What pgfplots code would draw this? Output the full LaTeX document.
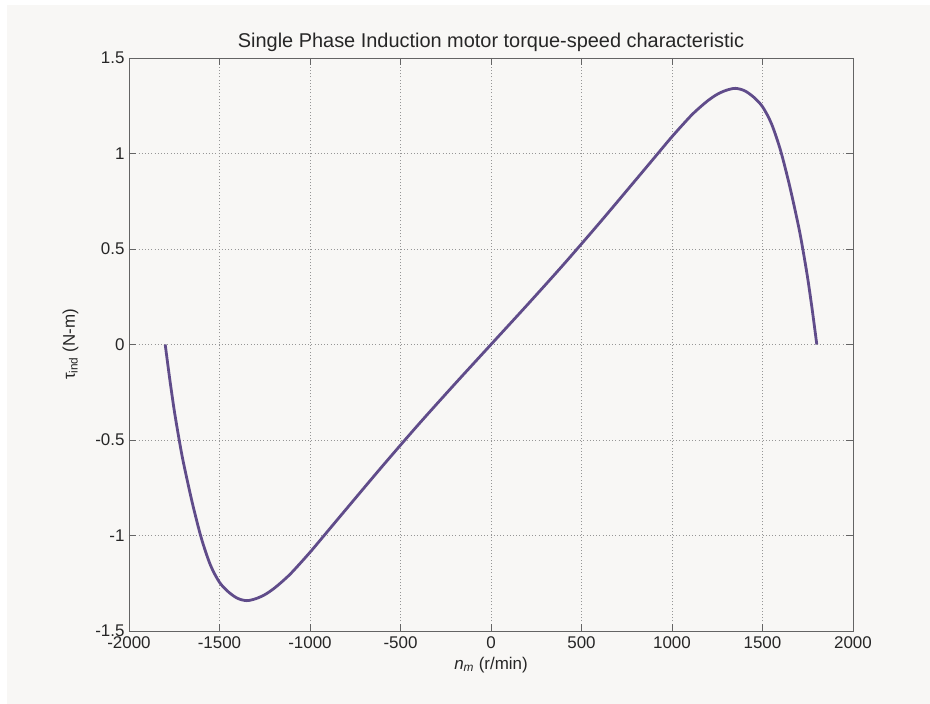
\documentclass[border=0pt]{standalone}
\usepackage{pgfplots}
\pgfplotsset{compat=1.18}
\usepackage{fontspec}
\setmainfont{Liberation Sans}
\definecolor{bgc}{RGB}{248,247,245}
\definecolor{curve}{RGB}{96,76,138}
\definecolor{axc}{RGB}{100,100,100}
\definecolor{gridc}{RGB}{150,150,150}
\begin{document}
\begin{tikzpicture}
\fill[white] (-129bp,-73bp) rectangle (801bp,631bp);
\fill[bgc] (-122bp,-73bp) rectangle (801bp,626bp);
\begin{axis}[
  at={(0,0)}, anchor=south west,
  scale only axis, width=724bp, height=573bp,
  xmin=-2000, xmax=2000, ymin=-1.5, ymax=1.5,
  xtick={-2000,-1500,-1000,-500,0,500,1000,1500,2000},
  xticklabels={-2000,-1500,-1000,-500,0,500,1000,1500,2000},
  ytick={-1.5,-1,-0.5,0,0.5,1,1.5},
  yticklabels={-1.5,-1,-0.5,0,0.5,1,1.5},
  tick align=inside, major tick length=7bp,
  tick style={axc, line width=0.6bp},
  axis line style={axc, line width=0.8bp},
  grid=major,
  major grid style={gridc, line width=0.5bp, dash pattern=on 1bp off 2.2bp},
  axis background/.style={fill=bgc},
  ticklabel style={font=\fontsize{17}{20}\selectfont, text=black!85},
  xticklabel style={yshift=-2.5bp},
  yticklabel style={xshift=-1bp},
  title={Single Phase Induction motor torque-speed characteristic},
  title style={font=\fontsize{20}{23}\selectfont, text=black!85, yshift=-3bp},
  xlabel={\textit{n}\textsubscript{\textit{m}} (r/min)},
  xlabel style={font=\fontsize{17}{20}\selectfont, text=black!85, yshift=-1bp},
  ylabel={τ\textsubscript{ind} (N-m)},
  ylabel style={font=\fontsize{17}{20}\selectfont, text=black!85, yshift=10bp},
]
\addplot[curve, line width=2.8bp, smooth, tension=0.5] coordinates {
(-1800,0) (-1775,-0.18) (-1750,-0.345) (-1725,-0.487) (-1700,-0.615) (-1650,-0.83) (-1600,-1.015)
(-1550,-1.155) (-1500,-1.245) (-1450,-1.296) (-1400,-1.329) (-1350,-1.341)
(-1300,-1.331) (-1250,-1.31) (-1200,-1.278) (-1150,-1.238) (-1100,-1.193) (-1000,-1.088)
(-900,-0.975) (-800,-0.862) (-600,-0.637) (-400,-0.418) (-200,-0.207) (0,0)
(200,0.207) (400,0.418) (600,0.637) (800,0.862) (900,0.975) (1000,1.088)
(1100,1.193) (1150,1.238) (1200,1.278) (1250,1.31) (1300,1.331) (1350,1.341) (1400,1.329)
(1450,1.296) (1500,1.245) (1550,1.155) (1600,1.015) (1650,0.83) (1700,0.615)
(1725,0.487) (1750,0.345) (1775,0.18) (1800,0)
};
\end{axis}
\end{tikzpicture}
\end{document}
